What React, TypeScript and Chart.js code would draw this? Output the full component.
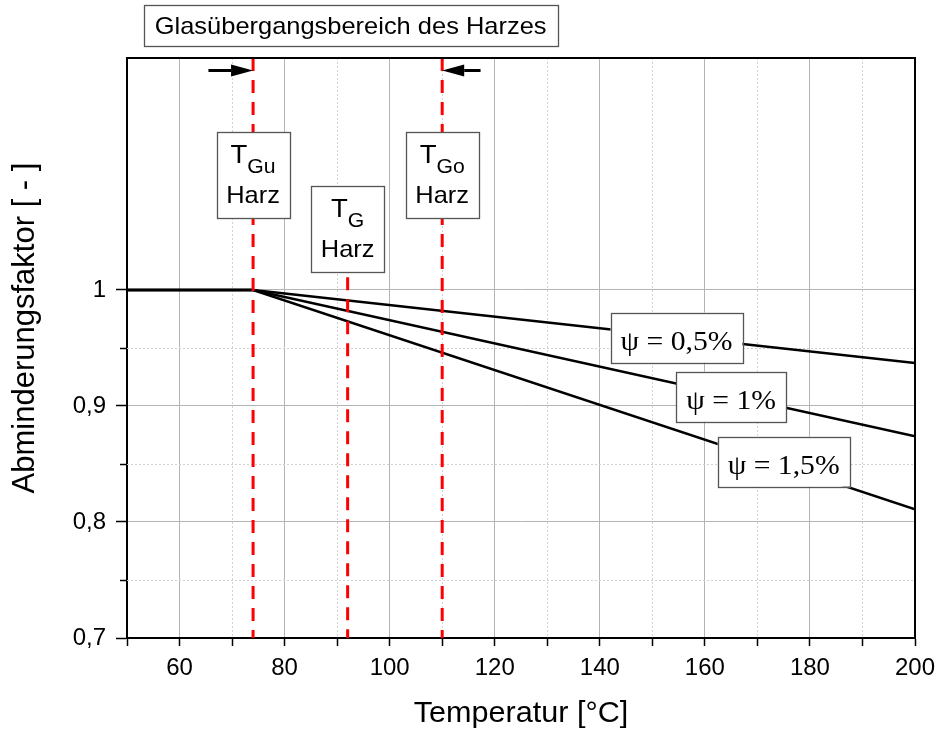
import React, { useEffect, useRef } from 'react';
import { Chart, registerables } from 'chart.js';

Chart.register(...registerables);

// ---- data ----
const temperatures = [50, 74, 200];
const factorPsi05 = [1, 1, 0.937];
const factorPsi10 = [1, 1, 0.874];
const factorPsi15 = [1, 1, 0.811];
const seriesLabels = ['ψ = 0,5%', 'ψ = 1%', 'ψ = 1,5%'];
const seriesLabelX = [154.6, 165.0, 175.0];
const seriesLabelY = [0.959, 0.908, 0.852];

const markerTemps = [74, 92, 110];
const markerTops = [1.2, 1.03, 1.2];
const markerSubs = ['Gu', 'G', 'Go'];
const markerBoxY = [1.099, 1.0526, 1.099];

const arrowFrom = [65.5, 117.3];
const arrowTo = [74, 110];

const xTickValues = [50, 60, 70, 80, 90, 100, 110, 120, 130, 140, 150, 160, 170, 180, 190, 200];
const xMajorStep = 20;
const yTickValues = [0.7, 0.75, 0.8, 0.85, 0.9, 0.95, 1.0];
const yMajorTicks = [0.7, 0.8, 0.9, 1.0];

const titleText = 'Glasübergangsbereich des Harzes';
const xTitle = 'Temperatur [°C]';
const yTitle = 'Abminderungsfaktor [ - ]';

const SANS = '"Liberation Sans", Arial, sans-serif';
const SERIF = '"Liberation Serif", "Times New Roman", serif';
const SX = 1.06;

const isYMajor = (v: number) => yMajorTicks.some((m) => Math.abs(m - v) < 1e-6);
const isXMajor = (v: number) => Math.abs(v % xMajorStep) < 1e-6;

function stretchedText(ctx: CanvasRenderingContext2D, text: string, x: number, y: number, align: CanvasTextAlign, sx = SX) {
  ctx.save();
  ctx.translate(x, y);
  ctx.scale(sx, 1);
  ctx.textAlign = align;
  ctx.textBaseline = 'alphabetic';
  ctx.fillText(text, 0, 0);
  ctx.restore();
}

function box(ctx: CanvasRenderingContext2D, x: number, y: number, w: number, h: number) {
  ctx.save();
  ctx.fillStyle = '#ffffff';
  ctx.fillRect(x, y, w, h);
  ctx.strokeStyle = '#555555';
  ctx.lineWidth = 1.3;
  ctx.setLineDash([]);
  ctx.strokeRect(Math.round(x) + 0.5, Math.round(y) + 0.5, Math.round(w), Math.round(h));
  ctx.restore();
}

const overlayPlugin = {
  id: 'overlay',
  beforeDatasetsDraw(chart: any) {
    const { ctx, chartArea: a, scales } = chart;
    const x = scales.x, y = scales.y;
    ctx.save();
    ctx.strokeStyle = '#d2d2d2';
    ctx.lineWidth = 1;
    ctx.setLineDash([2, 2]);
    xTickValues
      .filter((v) => !isXMajor(v) && v > xTickValues[0] && v < xTickValues[xTickValues.length - 1])
      .forEach((v) => {
        const px = Math.round(x.getPixelForValue(v)) + 0.5;
        ctx.beginPath();
        ctx.moveTo(px, a.top);
        ctx.lineTo(px, a.bottom);
        ctx.stroke();
      });
    yTickValues
      .filter((v) => !isYMajor(v))
      .forEach((v) => {
        const py = Math.round(y.getPixelForValue(v)) + 0.5;
        ctx.beginPath();
        ctx.moveTo(a.left, py);
        ctx.lineTo(a.right, py);
        ctx.stroke();
      });
    ctx.restore();
  },
  afterDatasetsDraw(chart: any) {
    const { ctx, chartArea: a, scales } = chart;
    const x = scales.x, y = scales.y;
    ctx.save();

    // frame
    ctx.strokeStyle = '#000';
    ctx.lineWidth = 2;
    ctx.setLineDash([]);
    ctx.beginPath();
    ctx.moveTo(a.left, a.top);
    ctx.lineTo(a.right, a.top);
    ctx.lineTo(a.right, a.bottom);
    ctx.stroke();

    // minor y ticks (short)
    ctx.lineWidth = 1.5;
    yTickValues
      .filter((v) => !isYMajor(v))
      .forEach((v) => {
        const py = Math.round(y.getPixelForValue(v)) + 0.5;
        ctx.beginPath();
        ctx.moveTo(a.left - 7, py);
        ctx.lineTo(a.left, py);
        ctx.stroke();
      });

    // arrows
    const ay = a.top + 12.5;
    ctx.fillStyle = '#000';
    arrowFrom.forEach((from, i) => {
      const x0 = x.getPixelForValue(from);
      const x1 = x.getPixelForValue(arrowTo[i]);
      const dir = Math.sign(x1 - x0);
      const headLen = 22;
      ctx.lineWidth = 3;
      ctx.beginPath();
      ctx.moveTo(x0, ay);
      ctx.lineTo(x1 - dir * headLen, ay);
      ctx.stroke();
      ctx.beginPath();
      ctx.moveTo(x1, ay);
      ctx.lineTo(x1 - dir * headLen, ay - 6);
      ctx.lineTo(x1 - dir * headLen, ay + 6);
      ctx.closePath();
      ctx.fill();
    });

    // marker boxes
    markerTemps.forEach((t, i) => {
      const cx = x.getPixelForValue(t);
      const cy = y.getPixelForValue(markerBoxY[i]);
      const w = 73, h = 86;
      const top = cy - h / 2;
      box(ctx, cx - w / 2, top, w, h);
      ctx.fillStyle = '#000';
      ctx.font = `26px ${SANS}`;
      const tw = ctx.measureText('T').width * SX;
      ctx.font = `20px ${SANS}`;
      const sw = ctx.measureText(markerSubs[i]).width * SX;
      const startX = cx - (tw + sw) / 2;
      ctx.font = `26px ${SANS}`;
      stretchedText(ctx, 'T', startX, top + 31, 'left');
      ctx.font = `20px ${SANS}`;
      stretchedText(ctx, markerSubs[i], startX + tw, top + 41, 'left');
      ctx.font = `24px ${SANS}`;
      stretchedText(ctx, 'Harz', cx, top + 71, 'center');
    });

    // series labels
    seriesLabels.forEach((lab, i) => {
      const cx = x.getPixelForValue(seriesLabelX[i]);
      const cy = y.getPixelForValue(seriesLabelY[i]);
      ctx.font = `28px ${SERIF}`;
      const w = ctx.measureText(lab).width * SX + 20;
      const h = 50;
      box(ctx, cx - w / 2, cy - h / 2, w, h);
      ctx.fillStyle = '#000';
      stretchedText(ctx, lab, cx, cy + 12, 'center');
    });

    // title box
    {
      const cx = x.getPixelForValue(markerTemps[1]) + 3;
      ctx.font = `24px ${SANS}`;
      const w = ctx.measureText(titleText).width * SX + 22;
      const h = 41;
      const top = a.top - 53;
      box(ctx, cx - w / 2, top, w, h);
      ctx.fillStyle = '#000';
      stretchedText(ctx, titleText, cx, top + 29, 'center');
    }

    // axis titles
    ctx.fillStyle = '#000';
    ctx.font = `30px ${SANS}`;
    stretchedText(ctx, xTitle, (a.left + a.right) / 2, chart.height - 11, 'center', 1.02);
    ctx.save();
    ctx.translate(34, (a.top + a.bottom) / 2 - 20);
    ctx.rotate(-Math.PI / 2);
    ctx.font = `31px ${SANS}`;
    ctx.textAlign = 'center';
    ctx.textBaseline = 'alphabetic';
    ctx.fillText(yTitle, 0, 0);
    ctx.restore();

    ctx.restore();
  },
};

export default function App() {
  const canvasRef = useRef<HTMLCanvasElement | null>(null);

  useEffect(() => {
    const canvas = canvasRef.current;
    if (!canvas) return;
    Chart.defaults.font.family = SANS;
    Chart.defaults.color = '#000';

    const curve = (vals: number[]) => temperatures.map((t, i) => ({ x: t, y: vals[i] }));
    const markers = markerTemps.map((t, i) => ({
      data: [
        { x: t, y: markerTops[i] },
        { x: t, y: yTickValues[0] },
      ],
      borderColor: '#ff0000',
      borderWidth: 3,
      borderDash: [13, 9],
      pointRadius: 0,
      fill: false,
      tension: 0,
    }));

    const chart = new Chart(canvas, {
      type: 'line',
      data: {
        datasets: [
          ...markers,
          { label: seriesLabels[0], data: curve(factorPsi05), borderColor: '#000', borderWidth: 2.5, pointRadius: 0, fill: false, tension: 0 },
          { label: seriesLabels[1], data: curve(factorPsi10), borderColor: '#000', borderWidth: 2.5, pointRadius: 0, fill: false, tension: 0 },
          { label: seriesLabels[2], data: curve(factorPsi15), borderColor: '#000', borderWidth: 2.5, pointRadius: 0, fill: false, tension: 0 },
        ] as any,
      },
      options: {
        responsive: false,
        animation: false,
        devicePixelRatio: 1,
        layout: { padding: { left: 0, top: 58, right: 23, bottom: 0 } },
        plugins: { legend: { display: false }, tooltip: { enabled: false } },
        scales: {
          x: {
            type: 'linear',
            min: xTickValues[0],
            max: xTickValues[xTickValues.length - 1],
            afterBuildTicks: (s: any) => {
              s.ticks = xTickValues.map((v) => ({ value: v }));
            },
            afterFit: (s: any) => {
              s.height = 95;
              s.paddingLeft = 0;
              s.paddingRight = 0;
            },
            ticks: {
              autoSkip: false,
              maxRotation: 0,
              padding: 8,
              font: { size: 24 },
              color: '#000',
              callback: (v: any) => (isXMajor(Number(v)) ? String(v) : ''),
            },
            grid: {
              color: (c: any) => (c.tick && isXMajor(c.tick.value) ? '#b4b4b4' : 'rgba(0,0,0,0)'),
              lineWidth: 1,
              tickColor: '#000',
              tickLength: 8,
              tickWidth: 1.5,
            },
            border: { color: '#000', width: 2 },
            title: { display: false },
          },
          y: {
            type: 'linear',
            min: 0.7,
            max: 1.2,
            afterBuildTicks: (s: any) => {
              s.ticks = yTickValues.map((v) => ({ value: v }));
            },
            afterFit: (s: any) => {
              s.width = 127;
              s.paddingTop = 0;
              s.paddingBottom = 0;
            },
            ticks: {
              autoSkip: false,
              padding: 10,
              font: { size: 24 },
              color: '#000',
              callback: (v: any) => {
                const n = Number(v);
                if (!isYMajor(n)) return '';
                return String(Math.round(n * 10) / 10).replace('.', ',');
              },
            },
            grid: {
              color: (c: any) => (c.tick && isYMajor(c.tick.value) ? '#b4b4b4' : 'rgba(0,0,0,0)'),
              lineWidth: 1,
              tickColor: (c: any) => (c.tick && isYMajor(c.tick.value) ? '#000' : 'rgba(0,0,0,0)'),
              tickLength: 11,
              tickWidth: 1.5,
            },
            border: { color: '#000', width: 2 },
            title: { display: false },
          },
        },
      },
      plugins: [overlayPlugin],
    });
    return () => chart.destroy();
  }, []);

  return (
    <div style={{ position: 'absolute', left: 0, top: 0, width: 938, height: 733, background: '#fff' }}>
      <canvas ref={canvasRef} width={938} height={733} style={{ display: 'block' }} />
    </div>
  );
}
